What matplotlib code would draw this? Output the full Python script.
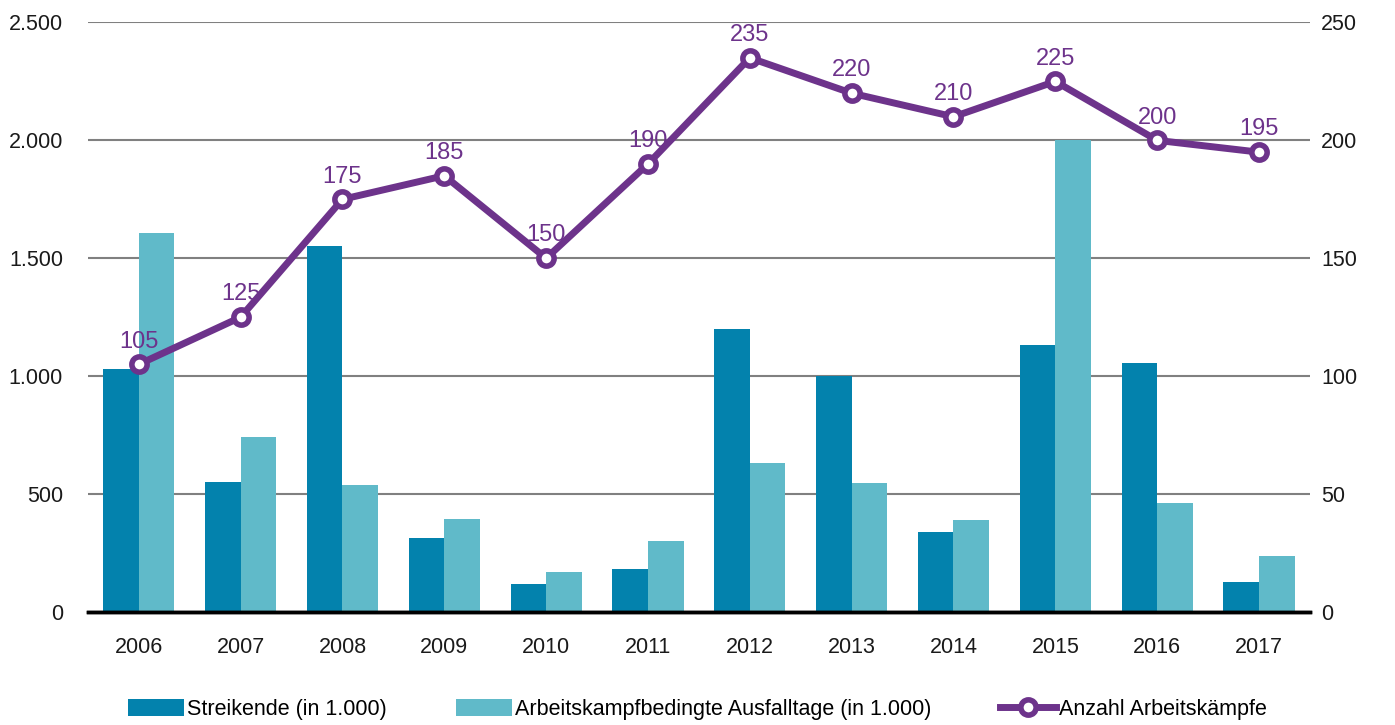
import numpy as np
import matplotlib.pyplot as plt
from matplotlib import font_manager

years = ['2006', '2007', '2008', '2009', '2010', '2011', '2012', '2013', '2014', '2015', '2016', '2017']
streikende = [1030, 550, 1550, 315, 120, 180, 1200, 1000, 340, 1130, 1055, 128]
ausfalltage = [1605, 743, 540, 395, 170, 302, 632, 548, 388, 2000, 460, 235]
kaempfe = [105, 125, 175, 185, 150, 190, 235, 220, 210, 225, 200, 195]

names = {f.name for f in font_manager.fontManager.ttflist}
fam = 'Liberation Sans Narrow' if 'Liberation Sans Narrow' in names else 'Liberation Sans'
plt.rcParams['font.family'] = [fam, 'DejaVu Sans']

dark = '#0382ad'
light = '#60bac9'
purple = '#6d338b'

fig = plt.figure(figsize=(13.95, 7.25), dpi=100)
ax = fig.add_axes([0.063, 0.156, 0.876, 0.813])
ax2 = ax.twinx()

x = np.arange(len(years))
w = 0.35
ax.bar(x - w / 2, streikende, w, color=dark, label='Streikende (in 1.000)', zorder=2)
ax.bar(x + w / 2, ausfalltage, w, color=light, label='Arbeitskampfbedingte Ausfalltage (in 1.000)', zorder=2)

ax2.plot(x, kaempfe, color=purple, lw=5, marker='o', ms=11, mfc='white', mec=purple, mew=4,
         label='Anzahl Arbeitskämpfe', zorder=3)
for xi, v in zip(x, kaempfe):
    ax2.text(xi, v + 5, str(v), color=purple, ha='center', va='bottom', fontsize=17)

ax.set_xlim(-0.5, len(years) - 0.5)
ax.set_ylim(0, 2500)
ax2.set_ylim(0, 250)
ax.set_yticks(range(0, 2501, 500))
ax.set_yticklabels(['0', '500', '1.000', '1.500', '2.000', '2.500'])
ax2.set_yticks(range(0, 251, 50))
ax.set_xticks(x)
ax.set_xticklabels(years)

ax.yaxis.grid(True, color='#808080', lw=1.5, zorder=0)
ax.set_axisbelow(True)
for a in (ax, ax2):
    for s in ('top', 'left', 'right'):
        a.spines[s].set_visible(False)
    a.spines['bottom'].set_color('black')
    a.spines['bottom'].set_linewidth(2.5)
    a.tick_params(length=0, labelsize=15.5, colors='#1a1a1a')
ax.tick_params(axis='x', pad=18)
ax.tick_params(axis='y', pad=18)
ax2.tick_params(axis='y', pad=8)

h1, l1 = ax.get_legend_handles_labels()
h2, l2 = ax2.get_legend_handles_labels()
fig.legend(h1 + h2, l1 + l2, loc='lower center', bbox_to_anchor=(0.5, -0.02), ncol=3, frameon=False,
           fontsize=15.5, handlelength=2.6, handleheight=0.8, handletextpad=0.15, columnspacing=3.2)

fig.savefig('out.png', dpi=100)
